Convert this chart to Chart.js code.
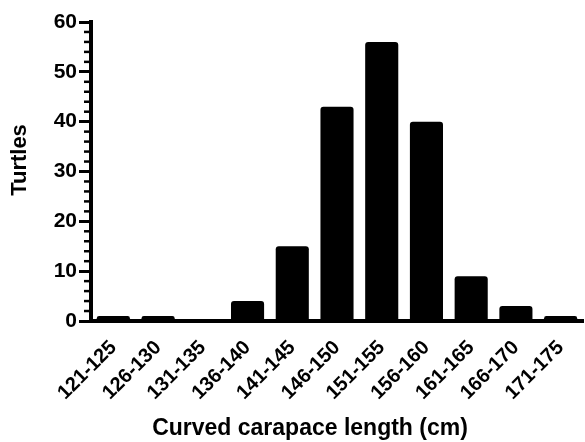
<!DOCTYPE html>
<html>
<head>
<meta charset="utf-8">
<script src="https://cdn.jsdelivr.net/npm/chart.js@4/dist/chart.umd.min.js"></script>
<style>
  html, body { margin: 0; padding: 0; background: #fff; }
  #wrap { width: 585px; height: 442px; }
</style>
</head>
<body>
<div id="wrap"><canvas id="c" width="585" height="442"></canvas></div>
<script>
const categories = ['121-125', '126-130', '131-135', '136-140', '141-145', '146-150',
                    '151-155', '156-160', '161-165', '166-170', '171-175'];
const turtles = [1, 1, 0, 4, 15, 43, 56, 40, 9, 3, 1];
const yMin = 0;
const yMax = 60;
const yMajorStep = 10;
const yMinorStep = 2;
const xTitle = 'Curved carapace length (cm)';
const yTitle = 'Turtles';

const FONT = "'Liberation Sans', Arial, sans-serif";

const axisDecor = {
  id: 'axisDecor',
  afterDraw(chart) {
    const ctx = chart.ctx;
    const ys = chart.scales.y;
    const left = chart.chartArea.left;
    ctx.save();
    ctx.strokeStyle = '#000';
    ctx.lineWidth = 2.5;
    for (let v = yMin; v <= yMax; v += yMinorStep) {
      if (v % yMajorStep === 0) continue;
      const py = ys.getPixelForValue(v);
      ctx.beginPath();
      ctx.moveTo(left - 7, py);
      ctx.lineTo(left, py);
      ctx.stroke();
    }
    ctx.fillStyle = '#000';
    ctx.font = 'bold 23px ' + FONT;
    ctx.textAlign = 'center';
    ctx.textBaseline = 'alphabetic';
    ctx.fillText(xTitle, 310, 435);
    ctx.translate(26, 160);
    ctx.rotate(-Math.PI / 2);
    ctx.font = 'bold 22px ' + FONT;
    ctx.fillText(yTitle, 0, 0);
    ctx.restore();
  }
};

new Chart(document.getElementById('c'), {
  type: 'bar',
  data: {
    labels: categories,
    datasets: [{
      data: turtles,
      backgroundColor: '#000',
      borderWidth: 0,
      borderRadius: 3,
      borderSkipped: 'bottom',
      barPercentage: 0.74,
      categoryPercentage: 1.0
    }]
  },
  options: {
    responsive: false,
    animation: false,
    devicePixelRatio: 1,
    layout: { padding: { top: 22, right: 2, left: 0, bottom: 0 } },
    plugins: { legend: { display: false }, tooltip: { enabled: false }, title: { display: false } },
    scales: {
      x: {
        grid: { display: false, drawTicks: false },
        border: { display: true, color: '#000', width: 4 },
        ticks: {
          autoSkip: false, maxRotation: 45, minRotation: 45,
          color: '#000', padding: 15,
          font: { family: FONT, size: 20, weight: 'bold' }
        },
        afterFit(scale) {
          scale.height = 121;
          scale.paddingLeft = 0;
          scale.paddingRight = 0;
        }
      },
      y: {
        min: yMin, max: yMax,
        grid: { display: true, drawOnChartArea: false, drawTicks: true, tickLength: 12, tickWidth: 3, tickColor: '#000' },
        border: { display: true, color: '#000', width: 4 },
        ticks: {
          stepSize: yMajorStep, color: '#000', padding: 2,
          font: { family: FONT, size: 21, weight: 'bold' }
        },
        afterFit(scale) { scale.width = 91; }
      }
    }
  },
  plugins: [axisDecor]
});
</script>
</body>
</html>
